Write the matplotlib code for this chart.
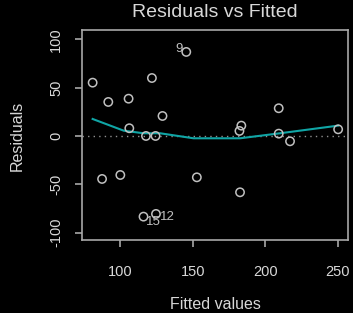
import numpy as np
import matplotlib
matplotlib.use("Agg")
import matplotlib.pyplot as plt

# fitted values and residuals
fitted = [80.9, 91.7, 105.7, 121.8, 145.5, 129.1, 106.2, 117.7, 124.3,
          87.4, 100.0, 152.8, 116.0, 124.6, 209.3, 183.5, 182.2, 209.3,
          217.1, 250.3, 182.6]
resid = [55.2, 35.2, 38.6, 60.0, 87.0, 20.7, 8.0, 0.0, 0.0,
         -44.5, -40.4, -42.8, -83.5, -80.7, 28.7, 10.7, 5.2, 2.4,
         -5.5, 6.9, -58.3]

# smoother (lowess)
smooth_x = [80.9, 102.3, 116.0, 127.5, 150.5, 182.6, 210.2, 250.3]
smooth_y = [17.6, 5.5, 2.8, 2.8, -2.4, -2.4, 2.8, 10.7]

# labelled outliers: (label, x, y)
labels = [("9", 140.4, 90.4), ("15", 122.9, -88.8), ("12", 132.4, -84.2)]

xticks = [100, 150, 200, 250]
yticks = [-100, -50, 0, 50, 100]

fg = "#d8d8d8"
box = "#a8a8a8"

plt.rcParams["font.family"] = ["Liberation Sans", "DejaVu Sans"]

fig = plt.figure(figsize=(3.53, 3.13), dpi=100, facecolor="black")
ax = fig.add_axes([0.2337, 0.2332, 0.9850 - 0.2337, 0.9026 - 0.2332])
ax.set_facecolor("black")

ax.axhline(0, color="#909090", lw=1, ls=(0, (1, 3)))
ax.scatter(fitted, resid, s=36, facecolors="none", edgecolors="#c0c0c0", linewidths=1.1, zorder=3)
ax.plot(smooth_x, smooth_y, color="#10a5a5", lw=1.5, zorder=2)

for lab, x, y in labels:
    ax.text(x, y, lab, color="#c0c0c0", fontsize=9.5, ha="center", va="center")

ax.set_xlim(73.9, 256.9)
ax.set_ylim(-107.7, 109.2)
ax.set_xticks(xticks)
ax.set_yticks(yticks)
ax.set_yticklabels([str(t) for t in yticks], rotation=90, va="center")

for sp in ax.spines.values():
    sp.set_color(box)
    sp.set_linewidth(1.2)
ax.tick_params(colors=box, labelcolor=fg, length=5, width=1.2, labelsize=10.5)
ax.tick_params(axis="x", pad=13)
ax.tick_params(axis="y", pad=9)

fig.text(0.609, 0.960, "Residuals vs Fitted", color=fg, fontsize=14, ha="center", va="center")
fig.text(0.609, 0.026, "Fitted values", color=fg, fontsize=11.5, ha="center", va="center")
fig.text(0.048, 0.565, "Residuals", color=fg, fontsize=11.5, ha="center", va="center", rotation=90)

fig.savefig("out.png", dpi=100, facecolor="black")
